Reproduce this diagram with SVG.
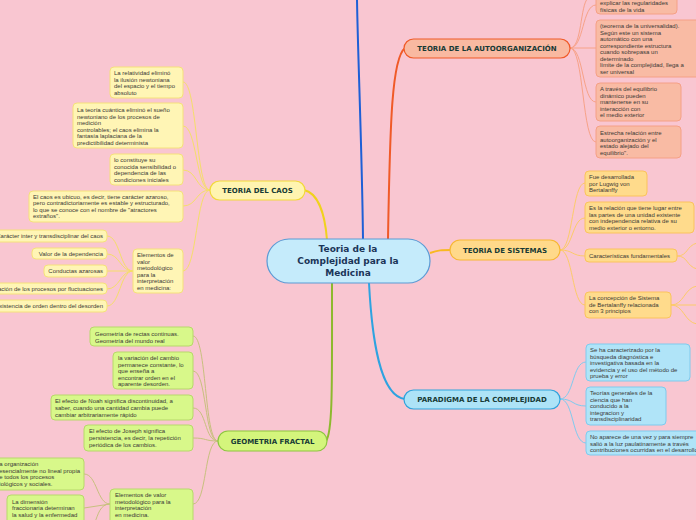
<svg xmlns="http://www.w3.org/2000/svg" width="696" height="520" viewBox="0 0 696 520">
<style>
.t{font-family:"Liberation Sans",Arial,sans-serif;font-size:6px;fill:#3a3a36}
.h{font-family:"DejaVu Sans",Verdana,sans-serif;font-size:7px;font-weight:bold;fill:#173a35;text-anchor:middle}
.c{font-family:"DejaVu Sans",Verdana,sans-serif;font-size:9px;font-weight:bold;fill:#1b3558;text-anchor:middle}
.e{text-anchor:end}
path{fill:none}
.sal{fill:#f9bba4;stroke:#f5a086;stroke-width:1}
.yel{fill:#ffdb8c;stroke:#fbc35c;stroke-width:1}
.blu{fill:#b0e4f8;stroke:#7ecbee;stroke-width:1}
.cao{fill:#fff5b5;stroke:#f5e17a;stroke-width:1}
.grn{fill:#d8f88a;stroke:#b7d86a;stroke-width:1}
</style>
<rect width="696" height="520" fill="#f9c6d1"/>
<g id="connectors">
<path d="M363 239 C362 150 358 60 357 0" stroke="#1e5fd6" stroke-width="2"/>
<path d="M388 239 C390 120 392 58 405 48" stroke="#f05a28" stroke-width="2"/>
<path d="M327 240 C325 214 318 193 304 190" stroke="#f0d21e" stroke-width="2"/>
<path d="M430 253 C438 250 442 250 451 250" stroke="#f9b820" stroke-width="2"/>
<path d="M332 283 C332 380 333 432 326 441" stroke="#8db92e" stroke-width="2"/>
<path d="M369 283 C372 340 380 396 405 399" stroke="#2ea3e0" stroke-width="2"/>
<g stroke="#f7a288" stroke-width="1">
<path d="M570 48 C584 48 582 5 596 5"/>
<path d="M570 48 C582 48 580 5 588 -2"/>
<path d="M570 48 L596 48"/>
<path d="M570 48 C584 48 582 102 596 102"/>
<path d="M570 48 C584 48 582 142 596 142"/>
</g>
<g stroke="#fccb6a" stroke-width="1">
<path d="M560 250 C573 250 572 183 585 183"/>
<path d="M560 250 C573 250 572 218 585 218"/>
<path d="M560 250 C573 250 572 256 585 256"/>
<path d="M560 250 C573 250 572 305 585 305"/>
<path d="M677 256 C688 256 686 246 697 243"/>
<path d="M677 256 C688 256 686 266 697 269"/>
<path d="M671 305 C684 305 684 288 697 286"/>
<path d="M671 305 L697 305"/>
<path d="M671 305 C684 305 684 322 697 324"/>
</g>
<g stroke="#7fcbef" stroke-width="1">
<path d="M560 399 C574 399 572 362 586 362"/>
<path d="M560 399 C574 399 572 406 586 406"/>
<path d="M560 399 C574 399 572 443 586 443"/>
</g>
<g stroke="#f5de6a" stroke-width="1">
<path d="M210 190 C196 190 197 82 183 82"/>
<path d="M210 190 C196 190 197 126 183 126"/>
<path d="M210 190 C196 190 197 170 183 170"/>
<path d="M210 190 C196 190 197 206 183 206"/>
<path d="M210 190 C196 190 197 271 183 271"/>
<path d="M133 271 C120 271 120 236 107 236"/>
<path d="M133 271 C120 271 120 254 107 254"/>
<path d="M133 271 L107 271"/>
<path d="M133 271 C120 271 120 289 107 289"/>
<path d="M133 271 C120 271 120 306 107 306"/>
</g>
<g stroke="#c8c07e" stroke-width="1">
<path d="M218 441 C204 441 207 336 193 336"/>
<path d="M218 441 C204 441 207 371 193 371"/>
<path d="M218 441 C204 441 207 408 193 408"/>
<path d="M218 441 C204 441 207 438 193 438"/>
<path d="M218 441 C204 441 207 504 193 504"/>
<path d="M110 504 C97 504 97 474 84 474"/>
<path d="M110 504 L84 508"/>
<path d="M110 504 C100 504 98 515 95 522"/>
</g>
</g>
<g id="center">
<rect x="267" y="239" width="163" height="44" rx="22" fill="#c5ebfb" stroke="#5b9bd5" stroke-width="1.2"/>
<text class="c" x="348" y="252">Teoria de la</text>
<text class="c" x="348" y="264">Complejidad para la</text>
<text class="c" x="348" y="276">Medicina</text>
</g>
<g id="autoorganizacion">
<rect x="404" y="39" width="166" height="19" rx="9.5" fill="#f9b9a1" stroke="#f05a28" stroke-width="1.2"/>
<text class="h" x="487" y="51">TEORIA DE LA AUTOORGANIZACIÓN</text>
</g>
<g id="auto1"><rect class="sal" x="596" y="-10" width="81" height="24" rx="4"/>
<text class="t" x="600" y="5">explicar las regularidades</text><text class="t" x="600" y="11.5">físicas de la vida</text></g>
<g id="auto2"><rect class="sal" x="596" y="20" width="104" height="57" rx="4"/>
<text class="t" x="600" y="28">(teorema de la universalidad).</text>
<text class="t" x="600" y="34.5">Según este un sistema</text>
<text class="t" x="600" y="41">automático con una</text>
<text class="t" x="600" y="47.5">correspondiente estructura</text>
<text class="t" x="600" y="54">cuando sobrepasa un</text>
<text class="t" x="600" y="60.5">determinado</text>
<text class="t" x="600" y="67">límite de la complejidad, llega a</text>
<text class="t" x="600" y="73.5">ser universal</text></g>
<g id="auto3"><rect class="sal" x="596" y="83" width="85" height="38" rx="4"/>
<text class="t" x="600" y="91">A través del equilibrio</text>
<text class="t" x="600" y="97.5">dinámico pueden</text>
<text class="t" x="600" y="104">mantenerse en su</text>
<text class="t" x="600" y="110.5">interacción con</text>
<text class="t" x="600" y="117">el medio exterior</text></g>
<g id="auto4"><rect class="sal" x="596" y="126" width="85" height="32" rx="4"/>
<text class="t" x="600" y="135">Estrecha relación entre</text>
<text class="t" x="600" y="141.5">autoorganización y el</text>
<text class="t" x="600" y="148">estado alejado del</text>
<text class="t" x="600" y="154.5">equilibrio".</text></g>
<g id="sistemas">
<rect x="450" y="240" width="110" height="20" rx="10" fill="#ffd98a" stroke="#f7b733" stroke-width="1.2"/>
<text class="h" x="505" y="253">TEORIA DE SISTEMAS</text>
</g>
<g id="sis1"><rect class="yel" x="585" y="171" width="62" height="25" rx="4"/>
<text class="t" x="589" y="179">Fue desarrollada</text>
<text class="t" x="589" y="185.5">por Lugwig von</text>
<text class="t" x="589" y="192">Bertalanffy</text></g>
<g id="sis2"><rect class="yel" x="585" y="202" width="109" height="31" rx="4"/>
<text class="t" x="589" y="210">Es la relación que tiene lugar entre</text>
<text class="t" x="589" y="216.5">las partes de una unidad existente</text>
<text class="t" x="589" y="223">con independencia relativa de su</text>
<text class="t" x="589" y="229.5">medio exterior o entorno.</text></g>
<g id="sis3"><rect class="yel" x="585" y="249" width="92" height="13" rx="4"/>
<text class="t" x="589" y="258">Características fundamentales</text></g>
<g id="sis4"><rect class="yel" x="585" y="292" width="86" height="26" rx="4"/>
<text class="t" x="589" y="300">La concepción de Sistema</text>
<text class="t" x="589" y="306.5">de Bertalanffy relacionada</text>
<text class="t" x="589" y="313">con 3 principios</text></g>
<g id="paradigma">
<rect x="404" y="390" width="156" height="19" rx="9.5" fill="#ade3f7" stroke="#2fa3dc" stroke-width="1.2"/>
<text class="h" x="482" y="402">PARADIGMA DE LA COMPLEJIDAD</text>
</g>
<g id="par1"><rect class="blu" x="586" y="344" width="104" height="37" rx="4"/>
<text class="t" x="590" y="352">Se ha caracterizado por la</text>
<text class="t" x="590" y="358.5">búsqueda diagnóstica e</text>
<text class="t" x="590" y="365">investigativa basada en la</text>
<text class="t" x="590" y="371.5">evidencia y el uso del método de</text>
<text class="t" x="590" y="378">prueba y error</text></g>
<g id="par2"><rect class="blu" x="586" y="387" width="80" height="38" rx="4"/>
<text class="t" x="590" y="395">Teorías generales de la</text>
<text class="t" x="590" y="401.5">ciencia que han</text>
<text class="t" x="590" y="408">conducido a la</text>
<text class="t" x="590" y="414.5">integracion y</text>
<text class="t" x="590" y="421">transdisciplinaridad</text></g>
<g id="par3"><rect class="blu" x="586" y="431" width="118" height="24" rx="4"/>
<text class="t" x="590" y="439">No aparece de una vez y para siempre</text>
<text class="t" x="590" y="445.5">salió a la luz paulatinamente a través</text>
<text class="t" x="590" y="452">contribuciones ocurridas en el desarrollo</text></g>
<g id="caos">
<rect x="210" y="181" width="95" height="19" rx="9.5" fill="#fff4b0" stroke="#f2d93a" stroke-width="1.2"/>
<text class="h" x="257.5" y="193">TEORIA DEL CAOS</text>
</g>
<g id="caos1"><rect class="cao" x="110" y="67" width="73" height="31" rx="4"/>
<text class="t" x="114" y="75">La relatividad eliminó</text>
<text class="t" x="114" y="81.5">la ilusión newtoniana</text>
<text class="t" x="114" y="88">del espacio y el tiempo</text>
<text class="t" x="114" y="94.5">absoluto</text></g>
<g id="caos2"><rect class="cao" x="73" y="103" width="110" height="45" rx="4"/>
<text class="t" x="77" y="112">La teoría cuántica eliminó el sueño</text>
<text class="t" x="77" y="118.5">newtoniano de los procesos de</text>
<text class="t" x="77" y="125">medición</text>
<text class="t" x="77" y="131.5">controlables; el caos elimina la</text>
<text class="t" x="77" y="138">fantasía laplaciana de la</text>
<text class="t" x="77" y="144.5">predictibilidad determinista</text></g>
<g id="caos3"><rect class="cao" x="110" y="154" width="73" height="31" rx="4"/>
<text class="t" x="114" y="162">lo constituye su</text>
<text class="t" x="114" y="168.5">conocida sensibilidad o</text>
<text class="t" x="114" y="175">dependencia de las</text>
<text class="t" x="114" y="181.5">condiciones iniciales</text></g>
<g id="caos4"><rect class="cao" x="29" y="191" width="154" height="31" rx="4"/>
<text class="t" x="33" y="198.5">El caos es ubicuo, es decir, tiene carácter azaroso,</text>
<text class="t" x="33" y="205">pero contradictoriamente es estable y estructurado,</text>
<text class="t" x="33" y="211.5">lo que se conoce con el nombre de "atractores</text>
<text class="t" x="33" y="218">extraños".</text></g>
<g id="caos5"><rect class="cao" x="133" y="249" width="50" height="44" rx="4"/>
<text class="t" x="137" y="257">Elementos de</text>
<text class="t" x="137" y="263.5">valor</text>
<text class="t" x="137" y="270">metodológico</text>
<text class="t" x="137" y="276.5">para la</text>
<text class="t" x="137" y="283">interpretación</text>
<text class="t" x="137" y="289.5">en medicina:</text></g>
<g id="caos5a"><rect class="cao" x="-20" y="230" width="127" height="12" rx="4"/>
<text class="t e" x="103" y="238">Carácter inter y transdisciplinar del caos</text></g>
<g id="caos5b"><rect class="cao" x="32" y="248" width="75" height="11" rx="4"/>
<text class="t e" x="103" y="256">Valor de la dependencia</text></g>
<g id="caos5c"><rect class="cao" x="44" y="265" width="63" height="12" rx="4"/>
<text class="t e" x="103" y="273">Conductas azarosas</text></g>
<g id="caos5d"><rect class="cao" x="-40" y="283" width="147" height="11" rx="4"/>
<text class="t e" x="103" y="291">Autoorganización de los procesos por fluctuaciones</text></g>
<g id="caos5e"><rect class="cao" x="-30" y="300" width="137" height="12" rx="4"/>
<text class="t e" x="103" y="308">Existencia de orden dentro del desorden</text></g>
<g id="fractal">
<rect x="218" y="431" width="109" height="20" rx="10" fill="#d4f57c" stroke="#8dc63f" stroke-width="1.2"/>
<text class="h" x="272.5" y="444">GEOMETRIA FRACTAL</text>
</g>
<g id="fr1"><rect class="grn" x="90" y="327" width="103" height="19" rx="4"/>
<text class="t" x="95" y="336">Geometría de rectas continuas.</text>
<text class="t" x="95" y="342.5">Geometría del mundo real</text></g>
<g id="fr2"><rect class="grn" x="113" y="352" width="80" height="37" rx="4"/>
<text class="t" x="118" y="360">la variación del cambio</text>
<text class="t" x="118" y="366.5">permanece constante, lo</text>
<text class="t" x="118" y="373">que enseña a</text>
<text class="t" x="118" y="379.5">encontrar orden en el</text>
<text class="t" x="118" y="386">aparente desorden.</text></g>
<g id="fr3"><rect class="grn" x="51" y="395" width="142" height="25" rx="4"/>
<text class="t" x="55" y="403">El efecto de Noah significa discontinuidad, a</text>
<text class="t" x="55" y="410">saber, cuando una cantidad cambia puede</text>
<text class="t" x="55" y="417">cambiar arbitrariamente rápido</text></g>
<g id="fr4"><rect class="grn" x="84" y="425" width="109" height="26" rx="4"/>
<text class="t" x="89" y="433">El efecto de Joseph significa</text>
<text class="t" x="89" y="440">persistencia, es decir, la repetición</text>
<text class="t" x="89" y="447">periódica de los cambios.</text></g>
<g id="fr5"><rect class="grn" x="110" y="489" width="83" height="40" rx="4"/>
<text class="t" x="115" y="497">Elementos de valor</text>
<text class="t" x="115" y="504">metodológico para la</text>
<text class="t" x="115" y="510">interpretación</text>
<text class="t" x="115" y="516.5">en medicina.</text></g>
<g id="fr5a"><rect class="grn" x="-20" y="458" width="104" height="32" rx="4"/>
<text class="t" x="-4" y="466">La organización</text>
<text class="t" x="-1" y="472.5">esencialmente no lineal propia</text>
<text class="t" x="-4" y="479">de todos los procesos</text>
<text class="t" x="-4" y="485.5">biológicos y sociales.</text></g>
<g id="fr5b"><rect class="grn" x="7" y="495" width="77" height="30" rx="4"/>
<text class="t" x="12" y="504">La dimensión</text>
<text class="t" x="12" y="510">fraccionaria determinan</text>
<text class="t" x="12" y="516.5">la salud y la enfermedad</text></g>
</svg>
